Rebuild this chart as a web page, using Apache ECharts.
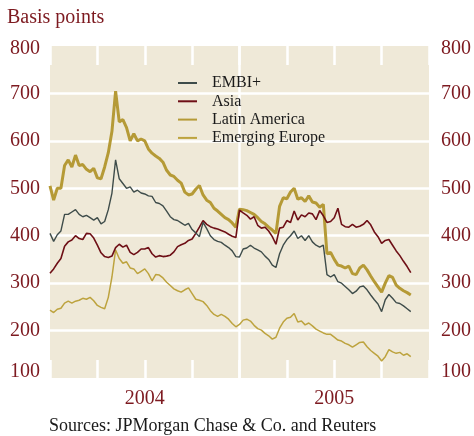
<!DOCTYPE html>
<html>
<head>
<meta charset="utf-8">
<script src="https://cdn.jsdelivr.net/npm/echarts@6/dist/echarts.min.js"></script>
<style>
html,body{margin:0;padding:0;background:#ffffff;}
#c{width:474px;height:436px;}
</style>
</head>
<body>
<div id="c"></div>
<script>
// Weekly observations, week 0 = first week of January 2004
const seriesNames = ['EMBI+', 'Asia', 'Latin America', 'Emerging Europe'];
const yearLabels = {26: '2004', 78: '2005'};   // x-axis tick value (week) -> label
const yearBoundary = 52;                        // week where 2005 starts

const embi = [405,388,402,410,445,445,450,455,445,440,443,438,433,438,425,430,455,490,560,520,
  510,500,503,492,496,490,488,484,483,470,468,463,452,440,434,432,427,422,426,413,
  406,398,428,415,400,392,388,386,380,375,368,356,355,372,374,380,374,370,366,357,
  350,338,333,362,380,392,400,410,394,400,390,400,387,380,376,380,318,313,318,303,
  300,293,286,278,283,292,294,286,275,265,256,240,265,276,268,259,257,252,246,240];

const asia = [321,330,342,352,378,387,391,400,394,392,405,404,395,380,364,356,354,357,375,382,
  376,380,365,360,365,372,372,375,362,355,358,356,357,359,366,377,381,384,390,393,
  405,418,432,424,419,416,414,411,408,403,399,396,454,448,443,435,440,422,416,418,
  410,398,382,416,418,432,428,452,433,444,440,448,446,434,453,442,428,430,438,458,
  424,419,418,424,418,420,424,432,423,408,398,384,390,392,380,368,358,346,335,322];

const latam = [505,475,500,500,548,560,545,570,548,550,540,535,542,522,520,545,575,620,705,640,
  645,628,600,615,600,604,600,583,574,568,563,555,538,528,525,517,511,492,486,488,
  498,506,486,475,470,458,452,445,438,434,427,418,456,455,453,449,445,438,430,425,
  418,412,405,462,480,478,492,500,477,480,472,484,471,469,460,466,362,365,350,338,
  336,332,336,320,318,332,338,328,315,303,292,281,300,316,312,296,289,284,280,275];

const emeurope = [243,238,245,247,258,262,258,262,264,268,266,270,263,253,249,246,270,313,370,352,
  342,345,332,330,320,325,330,320,305,318,317,311,302,295,288,284,281,286,290,278,
  266,264,261,253,242,234,230,234,230,224,215,208,213,222,224,220,211,204,201,194,
  189,182,186,205,218,226,228,236,218,220,212,216,210,203,199,195,192,192,186,180,
  178,173,170,165,170,175,176,166,158,152,146,136,145,160,155,152,154,148,151,145];

const toPairs = arr => arr.map((v, i) => [i, v]);

const RED = '#7d1a20';
const FONT = 'Liberation Serif';
const WHITE = '#ffffff';

const yLabelFmt = v => {
  if (v === 100) return '{lo|' + v + '}';
  if (v === 800) return '{hi|' + v + '}';
  return '{n|' + v + '}';
};
const labelRich = {
  n: {fontFamily: FONT, fontSize: 20, color: RED},
  lo: {fontFamily: FONT, fontSize: 20, color: RED, padding: [0, 0, 12, 0]},
  hi: {fontFamily: FONT, fontSize: 20, color: RED, padding: [6, 0, 0, 0]}
};

const chart = echarts.init(document.getElementById('c'), null, {renderer: 'canvas'});

const hiddenLine = {show: true, lineStyle: {color: 'rgba(0,0,0,0)', width: 0}};
const xCommon = {type: 'value', min: 0, max: 104, interval: 13};

chart.setOption({
  animation: false,
  backgroundColor: '#ffffff',
  title: [
    {text: 'Basis points', left: 7, top: 8, padding: 0,
     textStyle: {fontFamily: FONT, fontSize: 20, fontWeight: 'normal', color: RED}},
    {text: 'Sources: JPMorgan Chase & Co. and Reuters', left: 49, top: 417, padding: 0,
     textStyle: {fontFamily: FONT, fontSize: 18, fontWeight: 'normal', color: '#1a1a1a'}}
  ],
  grid: {left: 50, right: 44, top: 46, bottom: 58, show: true,
         backgroundColor: '#efe9d8', borderWidth: 0, containLabel: false},
  legend: {
    orient: 'vertical', left: 178, top: 75, padding: 0,
    icon: 'rect', itemWidth: 19, itemHeight: 2, itemGap: 2.3,
    data: seriesNames,
    textStyle: {fontFamily: FONT, fontSize: 16, lineHeight: 16, color: '#1a1a1a', padding: [0, 0, 0, 10]}
  },
  xAxis: [
    Object.assign({}, xCommon, {position: 'bottom',
     axisLine: hiddenLine,
     axisTick: {show: true, inside: true, length: 18, lineStyle: {color: WHITE, width: 2.5}},
     axisLabel: {show: true, margin: 11, fontFamily: FONT, fontSize: 20, color: RED,
                 formatter: v => yearLabels[v] || ''},
     splitLine: {show: false}}),
    Object.assign({}, xCommon, {position: 'top',
     axisLine: hiddenLine,
     axisTick: {show: true, inside: true, length: 19, lineStyle: {color: WHITE, width: 2.5}},
     axisLabel: {show: false}, splitLine: {show: false}}),
    {type: 'value', min: 0, max: 104, interval: yearBoundary, position: 'bottom', show: true,
     axisLine: {show: false}, axisTick: {show: false}, axisLabel: {show: false},
     splitLine: {show: true, showMinLine: false, showMaxLine: false,
                 lineStyle: {color: WHITE, width: 2.5}}}
  ],
  yAxis: [
    {type: 'value', min: 100, max: 800, interval: 100, position: 'left',
      axisLine: {show: false}, axisTick: {show: false},
      axisLabel: {margin: 10, formatter: yLabelFmt, rich: labelRich},
      splitLine: {show: true, showMinLine: false, showMaxLine: false,
                  lineStyle: {color: WHITE, width: 2.5}}},
    {type: 'value', min: 100, max: 800, interval: 100, position: 'right',
      axisLine: {show: false}, axisTick: {show: false},
      axisLabel: {margin: 12, formatter: yLabelFmt, rich: labelRich},
      splitLine: {show: false}}
  ],
  series: [
    {name: 'Emerging Europe', type: 'line', data: toPairs(emeurope), symbol: 'none',
     lineStyle: {color: '#bda33e', width: 1.5}, itemStyle: {color: '#bda33e'}},
    {name: 'Latin America', type: 'line', data: toPairs(latam), symbol: 'none',
     lineStyle: {color: '#b59a36', width: 3}, itemStyle: {color: '#b59a36'}},
    {name: 'Asia', type: 'line', data: toPairs(asia), symbol: 'none',
     lineStyle: {color: '#6e0f16', width: 1.6}, itemStyle: {color: '#6e0f16'}},
    {name: 'EMBI+', type: 'line', data: toPairs(embi), symbol: 'none',
     lineStyle: {color: '#3e4c4a', width: 1.4}, itemStyle: {color: '#3e4c4a'}}
  ]
});
</script>
</body>
</html>
